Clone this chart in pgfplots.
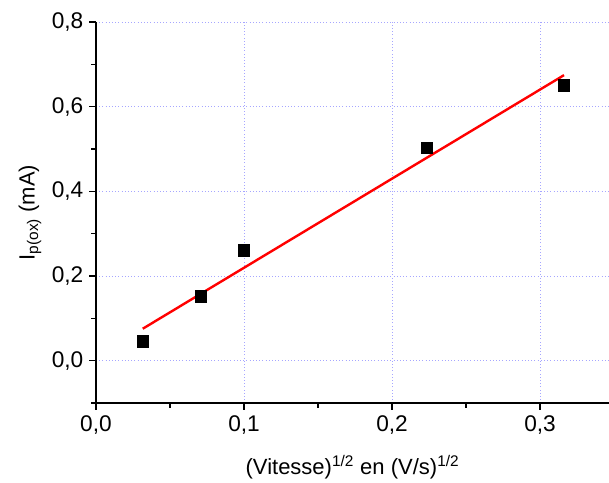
\documentclass[border=0pt]{standalone}
\usepackage{fontspec}
\setmainfont{Liberation Sans}
\usepackage{pgfplots}
\pgfplotsset{compat=1.18}
\begin{document}
\begin{tikzpicture}
\begin{axis}[
  at={(0,0)}, anchor=south west,
  scale only axis,
  width=384.75pt, height=285.75pt,
  xmin=0, xmax=0.3466,
  ymin=-0.1, ymax=0.8,
  axis lines=left,
  axis line style={black, line width=1.1pt, -},
  xtick={0,0.1,0.2,0.3},
  ytick={0,0.2,0.4,0.6,0.8},
  minor xtick={0.05,0.15,0.25},
  minor ytick={-0.1,0.1,0.3,0.5,0.7},
  tick align=outside,
  major tick length=5pt,
  minor tick length=3.5pt,
  tick style={black, line width=1pt},
  grid=major,
  major grid style={dotted, color=blue!35, line width=0.7pt},
  /pgf/number format/.cd, use comma, fixed, fixed zerofill, precision=1, assume math mode=true,
  /pgfplots/.cd,
  ticklabel style={font=\fontsize{17}{20}\selectfont},
  xticklabel style={yshift=-1pt},
  yticklabel style={xshift=-1pt},
  xlabel={(Vitesse)\textsuperscript{1/2} en (V/s)\textsuperscript{1/2}},
  ylabel={I\textsubscript{p(ox)} (mA)},
  label style={font=\fontsize{16.5}{20}\selectfont},
  xlabel style={at={(axis description cs:0.5,-0.168)}, anchor=center},
  ylabel style={at={(axis description cs:-0.1287,0.5)}, anchor=center},
  clip=false,
]
\addplot[red, line width=1.8pt] coordinates {(0.0316,0.0755) (0.3162,0.6745)};
\addplot[only marks, mark=square*, mark size=4.3pt, black] coordinates {
(0.0316,0.046) (0.0707,0.152) (0.1,0.261) (0.2236,0.503) (0.3162,0.651)};
\end{axis}
\pgfresetboundingbox
\path (-72pt,-59.25pt) rectangle (384.75pt,302.25pt);
\end{tikzpicture}
\end{document}
